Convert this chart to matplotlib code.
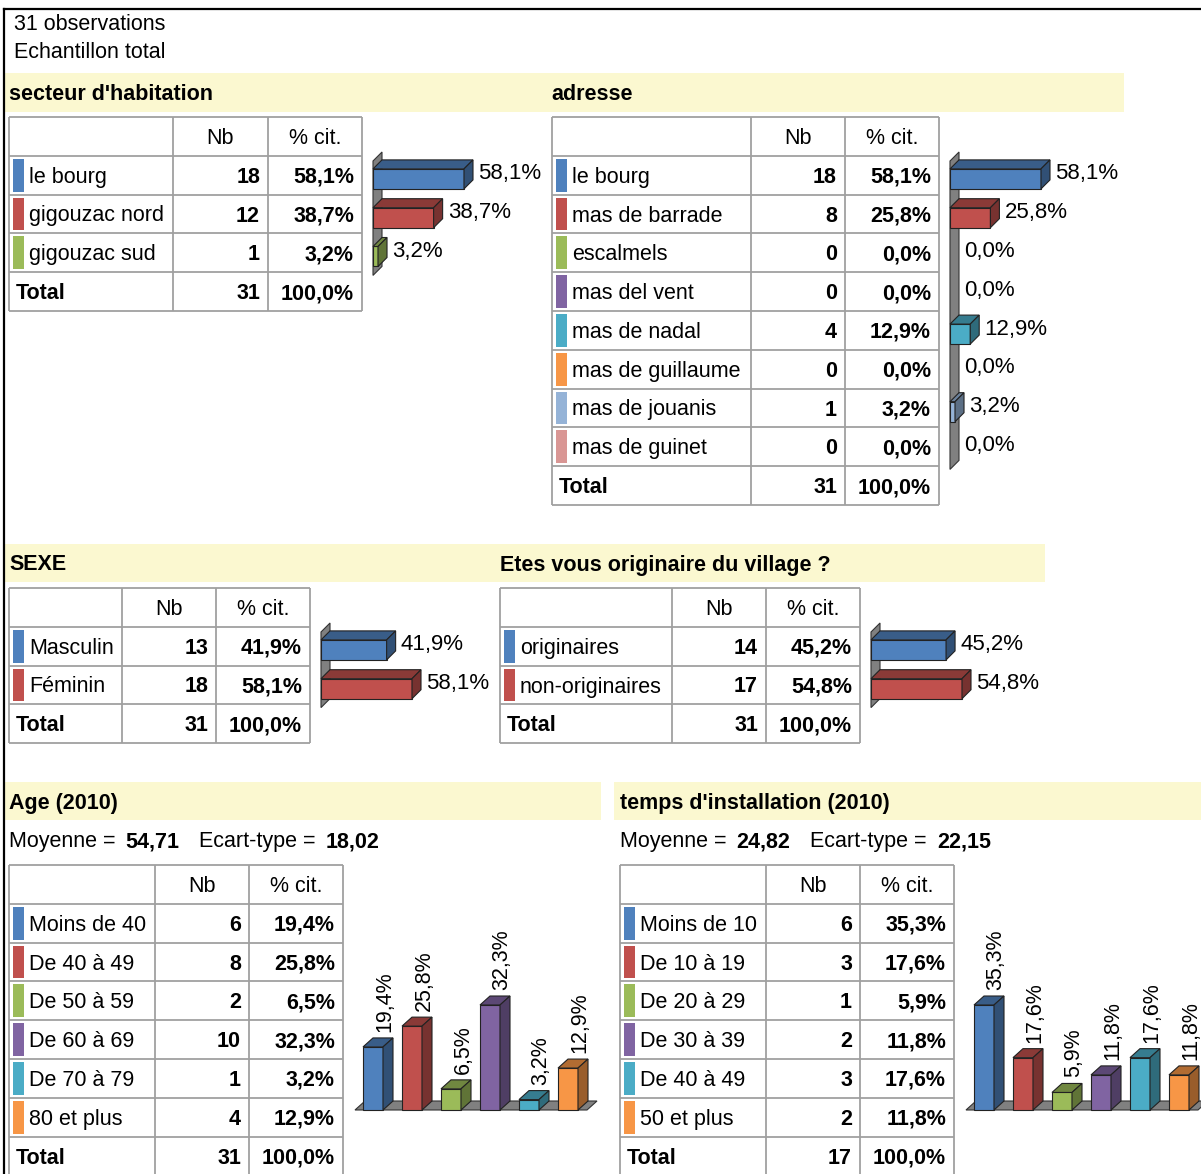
import matplotlib.pyplot as plt
import matplotlib.colors as mcolors
from matplotlib.patches import Rectangle, Polygon

plt.rcParams['font.family'] = ['Liberation Sans', 'DejaVu Sans']

# ---- data ----
n_obs = 31
secteur_labels = ['le bourg', 'gigouzac nord', 'gigouzac sud']
secteur_nb = [18, 12, 1]
secteur_pct = [58.1, 38.7, 3.2]

adresse_labels = ['le bourg', 'mas de barrade', 'escalmels', 'mas del vent',
                  'mas de nadal', 'mas de guillaume', 'mas de jouanis', 'mas de guinet']
adresse_nb = [18, 8, 0, 0, 4, 0, 1, 0]
adresse_pct = [58.1, 25.8, 0.0, 0.0, 12.9, 0.0, 3.2, 0.0]

sexe_labels = ['Masculin', 'Féminin']
sexe_nb = [13, 18]
sexe_pct = [41.9, 58.1]

orig_labels = ['originaires', 'non-originaires']
orig_nb = [14, 17]
orig_pct = [45.2, 54.8]

age_labels = ['Moins de 40', 'De 40 à 49', 'De 50 à 59', 'De 60 à 69', 'De 70 à 79', '80 et plus']
age_nb = [6, 8, 2, 10, 1, 4]
age_pct = [19.4, 25.8, 6.5, 32.3, 3.2, 12.9]
age_mean, age_sd = '54,71', '18,02'

temps_labels = ['Moins de 10', 'De 10 à 19', 'De 20 à 29', 'De 30 à 39', 'De 40 à 49', '50 et plus']
temps_nb = [6, 3, 1, 2, 3, 2]
temps_pct = [35.3, 17.6, 5.9, 11.8, 17.6, 11.8]
temps_mean, temps_sd = '24,82', '22,15'

palette = ['#4F81BD', '#C0504D', '#9BBB59', '#8064A2', '#4BACC6', '#F79646', '#95B3D7', '#D99694']

# ---- layout helpers ----
W, H = 1201, 1174
FS = 15.5
FS2 = 16
ROW = 38.8
DY = 2  # text baseline nudge (px)
GRID = '#A0A0A0'
BAND = '#FBF8D0'

fig = plt.figure(figsize=(W / 100, H / 100), dpi=100)
bg = fig.add_axes([0, 0, 1, 1])
bg.set_xlim(0, W)
bg.set_ylim(H, 0)
bg.axis('off')


def px_axes(x, y, w, h):
    ax = fig.add_axes([x / W, 1 - (y + h) / H, w / W, h / H])
    ax.patch.set_alpha(0)
    ax.axis('off')
    return ax


def shade(c, f):
    r, g, b = mcolors.to_rgb(c)
    return (r * f, g * f, b * f)


def fmt(v):
    return f"{v:.1f}%".replace('.', ',')


def txt(x, y, s, **kw):
    kw.setdefault('fontsize', FS)
    kw.setdefault('va', 'center')
    return bg.text(x, y + DY, s, **kw)


def band(x0, x1, y0, y1, title):
    bg.add_patch(Rectangle((x0, y0), x1 - x0, y1 - y0, fc=BAND, ec='none'))
    txt(9 if x0 < 10 else x0 + 6, (y0 + y1) / 2, title, fontweight='bold')


def table(cols, y0, labels, nb, pct, colors):
    n = len(labels)
    ys = [y0 + i * ROW for i in range(n + 3)]
    for y in ys:
        bg.plot([cols[0], cols[-1]], [y, y], color=GRID, lw=1.3, solid_capstyle='butt')
    for x in cols:
        bg.plot([x, x], [ys[0], ys[-1]], color=GRID, lw=1.3, solid_capstyle='butt')
    yc = y0 + ROW / 2
    txt((cols[1] + cols[2]) / 2, yc, 'Nb', ha='center')
    txt((cols[2] + cols[3]) / 2, yc, '% cit.', ha='center')
    for i, (lab, k, p, c) in enumerate(zip(labels, nb, pct, colors)):
        top = y0 + (i + 1) * ROW
        yc = top + ROW / 2
        bg.add_patch(Rectangle((cols[0] + 4, top + 3), 11, ROW - 6, fc=c, ec='none'))
        txt(cols[0] + 20, yc, lab)
        txt(cols[2] - 8, yc, str(k), fontweight='bold', ha='right')
        txt(cols[3] - 8, yc, fmt(p), fontweight='bold', ha='right')
    yc = y0 + (n + 1) * ROW + ROW / 2
    txt(cols[0] + 7, yc, 'Total', fontweight='bold')
    txt(cols[2] - 8, yc, str(sum(nb)), fontweight='bold', ha='right')
    txt(cols[3] - 8, yc, fmt(100.0), fontweight='bold', ha='right')


def hbar3d(x0, y0, values, colors, maxpx=91, depth=9):
    # x0: wall front edge (px), y0: top of first data row (px)
    n = len(values)
    s = maxpx / max(values)
    top_pad, bot_pad, w_px = 16, 10, 200
    ax = px_axes(x0 - 4, y0 - top_pad, w_px, n * ROW + top_pad + bot_pad)
    ax.set_xlim(-4 / s, (w_px - 4) / s)
    ax.set_ylim(n - 0.5 + bot_pad / ROW, -0.5 - top_pad / ROW)
    dx, dy = depth / s, depth / ROW
    bh = 20 / ROW
    yb, yt = n - 0.5 + 3 / ROW, -0.5 + 5 / ROW
    ax.add_patch(Polygon([(0, yb), (0, yt), (dx, yt - dy), (dx, yb - dy)],
                         fc='#808080', ec='#333333', lw=0.8, zorder=1))
    ys = [i + 3.5 / ROW for i in range(n)]
    ax.barh(ys, values, height=bh, color=colors, edgecolor='#222222',
            linewidth=[0.8 if v > 0 else 0 for v in values], zorder=3)
    for y, v, c in zip(ys, values, colors):
        t = y - bh / 2
        if v > 0:
            ax.add_patch(Polygon([(0, t), (v, t), (v + dx, t - dy), (dx, t - dy)],
                                 fc=shade(c, 0.72), ec='#222222', lw=0.8, zorder=3))
            ax.add_patch(Polygon([(v, t), (v, t + bh), (v + dx, t + bh - dy), (v + dx, t - dy)],
                                 fc=shade(c, 0.62), ec='#222222', lw=0.8, zorder=3))
        ax.text(v + dx + 5 / s, t + 5 / ROW, fmt(v), fontsize=FS2, ha='left', va='center')


def vbar3d(xc0, base, values, colors, pitch=39, maxpx=105, bw=20, depth=10):
    # xc0: centre of first bar (px), base: front bottom of bars (px)
    n = len(values)
    s = maxpx / max(values)
    left, w_px, up, down = xc0 - 25, n * pitch + 40, 240, 12
    ax = px_axes(left, base - up, w_px, up + down)
    ax.set_xlim((left - xc0) / pitch, (left + w_px - xc0) / pitch)
    ax.set_ylim(-down / s, up / s)
    dx, dy = depth / pitch, 9 / s
    hw = bw / 2 / pitch
    xa, xb = -hw - 8 / pitch, (n - 1) + hw + 9 / pitch
    ax.add_patch(Polygon([(xa, 0), (xb, 0), (xb + dx, dy), (xa + dx, dy)],
                         fc='#808080', ec='#333333', lw=0.8, zorder=1))
    xs = list(range(n))
    ax.bar(xs, values, width=bw / pitch, color=colors, edgecolor='#222222', lw=0.8, zorder=3)
    for x, v, c in zip(xs, values, colors):
        l, r = x - hw, x + hw
        ax.add_patch(Polygon([(l, v), (r, v), (r + dx, v + dy), (l + dx, v + dy)],
                             fc=shade(c, 0.72), ec='#222222', lw=0.8, zorder=3))
        ax.add_patch(Polygon([(r, 0), (r, v), (r + dx, v + dy), (r + dx, dy)],
                             fc=shade(c, 0.62), ec='#222222', lw=0.8, zorder=3))
        ax.text(x + 12 / pitch, v + dy + 6 / s, fmt(v), fontsize=15.5, rotation=90,
                ha='center', va='bottom')


# ---- frame and header ----
bg.plot([4, 4], [9, H], color='black', lw=1.6)
bg.plot([4, W], [9, 9], color='black', lw=1.6)
txt(14, 22, f'{n_obs} observations')
txt(14, 50, 'Echantillon total')

# ---- secteur / adresse ----
band(5, 1124, 73, 112, "secteur d'habitation")
txt(551, 93, 'adresse', fontweight='bold')
table([9, 173, 268, 362], 117, secteur_labels, secteur_nb, secteur_pct, palette)
hbar3d(373, 156, secteur_pct, palette[:3])
table([552, 751, 845, 939], 117, adresse_labels, adresse_nb, adresse_pct, palette)
hbar3d(950, 156, adresse_pct, palette)

# ---- sexe / originaire ----
band(5, 1045, 544, 582, 'SEXE')
txt(500, 563, 'Etes vous originaire du village ?', fontweight='bold')
table([9, 122, 216, 310], 588, sexe_labels, sexe_nb, sexe_pct, palette)
hbar3d(321, 627, sexe_pct, palette[:2])
table([500, 672, 766, 860], 588, orig_labels, orig_nb, orig_pct, palette)
hbar3d(871, 627, orig_pct, palette[:2])

# ---- age / temps d'installation ----
band(5, 601, 782, 820, 'Age (2010)')
band(614, W, 782, 820, "temps d'installation (2010)")
for x, mean, sd in [(9, age_mean, age_sd), (620, temps_mean, temps_sd)]:
    txt(x, 840, 'Moyenne = ')
    txt(x + 116, 840, mean, fontweight='bold')
    txt(x + 190, 840, 'Ecart-type = ')
    txt(x + 317, 840, sd, fontweight='bold')
table([9, 155, 249, 343], 865, age_labels, age_nb, age_pct, palette)
vbar3d(373, 1110, age_pct, palette[:6])
table([620, 766, 860, 954], 865, temps_labels, temps_nb, temps_pct, palette)
vbar3d(984, 1110, temps_pct, palette[:6])

fig.savefig('out.png', dpi=100)
